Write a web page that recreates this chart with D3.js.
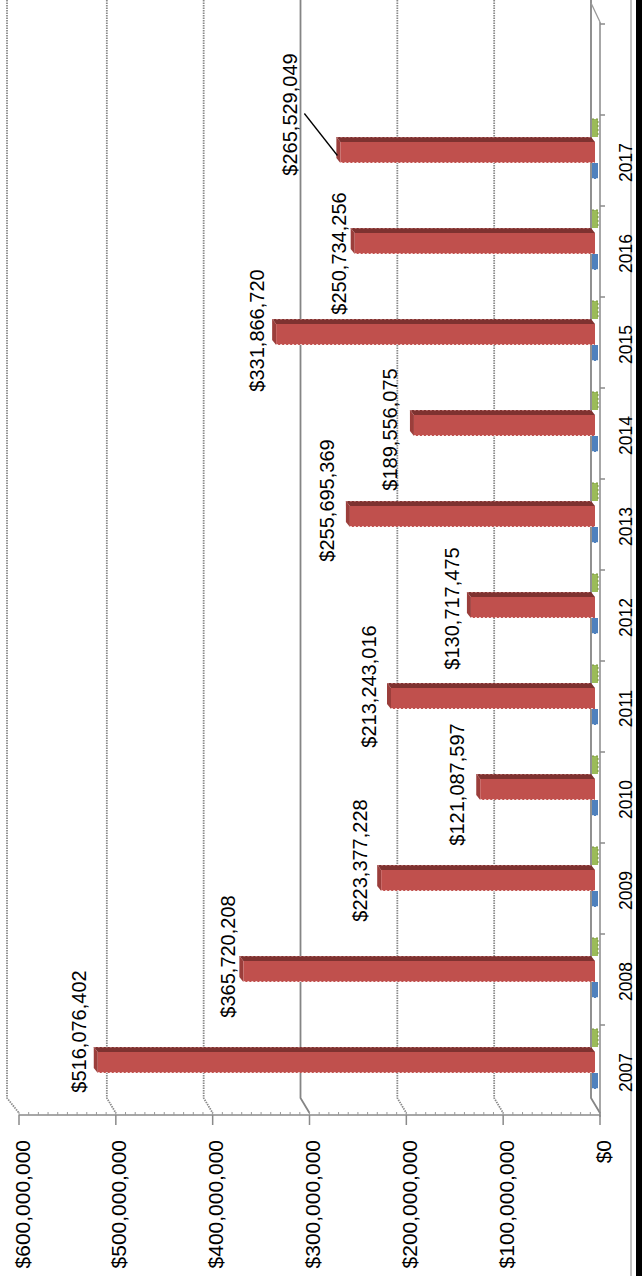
<!DOCTYPE html>
<html><head><meta charset="utf-8">
<script src="https://cdn.jsdelivr.net/npm/d3@7"></script>
<style>html,body{margin:0;padding:0;background:#fff;}svg{display:block;}</style>
</head><body>
<svg id="c" width="642" height="1276"></svg>
<script>
const years = ["2007","2008","2009","2010","2011","2012","2013","2014","2015","2016","2017"];
const seriesRed = [516076402,365720208,223377228,121087597,213243016,130717475,255695369,189556075,331866720,250734256,265529049];
const seriesBlue = [0,0,0,0,0,0,0,0,0,0,0];
const seriesGreen = [0,0,0,0,0,0,0,0,0,0,0];
const valueTicks = [0,100000000,200000000,300000000,400000000,500000000,600000000];
// manual label nudges (dx, dy) as placed in the original
const labelDx = [1,5,-1,-3,-2,1,-3,-4,1,4,-30];
const labelDy = [-31,-15,-20,-5,-12,1,-16,4,-4,10,-38];

const svg = d3.select("#c");
const font = "'Liberation Sans', Arial, sans-serif";
const x = d3.scaleLinear().domain([0,600000000]).range([600,19]);
const y = d3.scaleBand().domain(years).range([1116,115]);
const inner = d3.scaleBand().domain(["green","red","blue"]).range([6,69]);
const depthX = 9, floorTop = 1098, axisY = 1115;
const fmt = d3.format("$,");

svg.append("line").attr("x1",631).attr("x2",631).attr("y1",0).attr("y2",1276).attr("stroke","#888").attr("stroke-width",1);
svg.append("rect").attr("x",636).attr("y",0).attr("width",6).attr("height",1276).attr("fill","#000");

const g = svg.append("g");
valueTicks.forEach(t => {
  const xb = x(t) - depthX - (t===600000000?3:0);
  const solid = (t===300000000 || t===0);
  g.append("path")
    .attr("d", `M${xb},0 L${xb},${floorTop} L${x(t)},${axisY-2}`)
    .attr("fill","none").attr("stroke", solid?"#858585":"#8a8a8a").attr("stroke-width",1.8)
    .attr("stroke-dasharray", solid?null:"1.5,1");
});
g.append("path").attr("d",`M${x(0)-depthX},3 L${x(0)},22`).attr("fill","none").attr("stroke","#999").attr("stroke-width",1.3);

const ax = svg.append("g");
ax.append("line").attr("x1",x(600000000)).attr("x2",x(0)).attr("y1",axisY).attr("y2",axisY).attr("stroke","#8a8a8a").attr("stroke-width",1.5);
d3.range(0,600000001,10000000).forEach(t=>{
  ax.append("line").attr("x1",x(t)).attr("x2",x(t)).attr("y1",axisY-3).attr("y2",axisY).attr("stroke","#9a9a9a").attr("stroke-width",1);
});
valueTicks.forEach(t=>{
  ax.append("line").attr("x1",x(t)).attr("x2",x(t)).attr("y1",axisY).attr("y2",axisY+10).attr("stroke","#8a8a8a").attr("stroke-width",1.5);
  ax.append("text").attr("transform",`translate(${x(t)+3},1140) rotate(-90)`)
    .attr("text-anchor","end").attr("dominant-baseline","central")
    .attr("font-family",font).attr("font-size",21).attr("fill","#000").text(fmt(t));
});

const cx = svg.append("g");
cx.append("line").attr("x1",x(0)).attr("x2",x(0)).attr("y1",22).attr("y2",axisY+2).attr("stroke","#8a8a8a").attr("stroke-width",1.5);
years.forEach((yr,i)=>{
  const top = y(yr);
  cx.append("line").attr("x1",x(0)).attr("x2",x(0)+5).attr("y1",top).attr("y2",top).attr("stroke","#8a8a8a").attr("stroke-width",1.5);
  cx.append("text").attr("transform",`translate(626,${top+y.bandwidth()/2+2}) rotate(-90)`)
    .attr("text-anchor","middle").attr("dominant-baseline","central")
    .attr("font-family",font).attr("font-size",17.5).attr("fill","#000").text(yr);
});
cx.append("line").attr("x1",x(0)).attr("x2",x(0)+5).attr("y1",115-91).attr("y2",115-91).attr("stroke","#8a8a8a").attr("stroke-width",1.5);

const bars = svg.append("g");
years.forEach((yr,i)=>{
  const top = y(yr);
  const gy = top + inner("green"), by = top + inner("blue");
  const gx = x(seriesGreen[i]);
  bars.append("rect").attr("x",gx-8).attr("y",gy-2).attr("width",6).attr("height",inner.bandwidth()-3).attr("fill","#9BBB59");
  bars.append("path").attr("d",`M${gx-8},${gy-2} l6,0 l0,${inner.bandwidth()-3}`).attr("fill","none").attr("stroke","#76923C").attr("stroke-width",1).attr("stroke-dasharray","2,2");
  const bx = x(seriesBlue[i]);
  bars.append("rect").attr("x",bx-8).attr("y",by).attr("width",6).attr("height",inner.bandwidth()-5).attr("fill","#4F81BD");
  bars.append("path").attr("d",`M${bx-8},${by+inner.bandwidth()-5} l6,0`).attr("fill","none").attr("stroke","#fff").attr("stroke-width",1.5).attr("stroke-dasharray","2,2");
});
years.forEach((yr,i)=>{
  const top = y(yr) + inner("red");
  const bot = top + inner.bandwidth();
  const x0 = x(seriesRed[i]) - 6.5, x1 = x(0) - 5;
  const d = 5;
  bars.append("path").attr("d",`M${x0},${top-d} L${x1-4},${top-d} L${x1},${top} L${x0+4},${top} Z`).attr("fill","#7E3230");
  bars.append("path").attr("d",`M${x0},${top-d} L${x0+4},${top} L${x0+4},${bot} L${x0},${bot-d} Z`).attr("fill","#9B3E3B");
  bars.append("rect").attr("x",x0+4).attr("y",top).attr("width",x1-x0-4).attr("height",bot-top).attr("fill","#C0504D");
  bars.append("line").attr("x1",x0+4).attr("x2",x1).attr("y1",bot-0.5).attr("y2",bot-0.5).attr("stroke","#f3d6d5").attr("stroke-width",1.2).attr("stroke-dasharray","2,2");
  bars.append("line").attr("x1",x0).attr("x2",x1-4).attr("y1",top-d+0.5).attr("y2",top-d+0.5).attr("stroke","#b36a68").attr("stroke-width",1).attr("stroke-dasharray","2,2");
});

const lab = svg.append("g");
years.forEach((yr,i)=>{
  const top = y(yr) + inner("red");
  const cy = top + inner.bandwidth()/2 + labelDy[i];
  const barEnd = x(seriesRed[i]) - 6.5;
  const cxp = barEnd - 16 + labelDx[i];
  lab.append("text").attr("transform",`translate(${cxp},${cy}) rotate(-90)`)
    .attr("text-anchor","middle").attr("dominant-baseline","central")
    .attr("font-family",font).attr("font-size",20).attr("fill","#000").text(fmt(seriesRed[i]));
  if (i === years.length-1) {
    lab.append("line").attr("x1",cxp+14).attr("y1",cy-1).attr("x2",barEnd+1).attr("y2",top+inner.bandwidth()/2+3)
      .attr("stroke","#000").attr("stroke-width",1.3);
  }
});
</script>
</body></html>
